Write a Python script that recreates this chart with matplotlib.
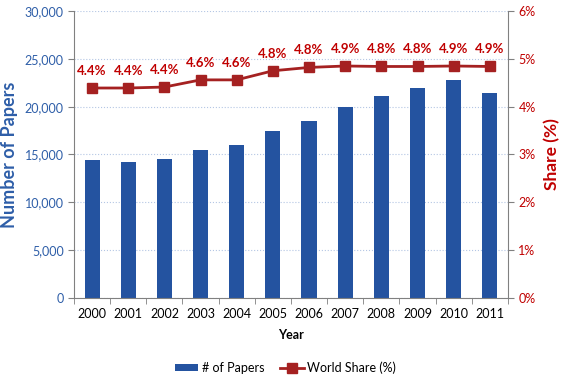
import numpy as np
import matplotlib.pyplot as plt
from matplotlib.ticker import FuncFormatter, FixedLocator

plt.rcParams['font.family'] = ['Lato', 'DejaVu Sans']

years = ['2000', '2001', '2002', '2003', '2004', '2005',
         '2006', '2007', '2008', '2009', '2010', '2011']
papers = [14430, 14230, 14540, 15480, 16000, 17470,
          18510, 20010, 21130, 21970, 22800, 21440]
share = [4.39, 4.39, 4.41, 4.56, 4.56, 4.75,
         4.82, 4.85, 4.84, 4.84, 4.85, 4.84]
share_labels = ['4.4%', '4.4%', '4.4%', '4.6%', '4.6%', '4.8%',
                '4.8%', '4.9%', '4.8%', '4.8%', '4.9%', '4.9%']

blue = '#2453a0'
red = '#a52121'
axis_blue = '#2e5ea8'
axis_red = '#c00000'

fig = plt.figure(figsize=(5.65, 3.79), dpi=100)
ax = fig.add_axes([0.131, 0.2137, 0.768, 0.7573])
x = np.arange(len(years))

ax.bar(x, papers, width=0.42, color=blue, label='# of Papers', zorder=2)
ax.set_xlim(-0.5, len(years) - 0.5)
ax.set_ylim(0, 30000)
ax.set_yticks(np.arange(0, 30001, 5000))
ax.yaxis.set_major_formatter(FuncFormatter(lambda v, p: f'{int(v):,}'))
ax.set_xticks(x)
ax.set_xticklabels(years)
ax.xaxis.set_minor_locator(FixedLocator(np.arange(-0.5, len(years), 1)))
ax.tick_params(axis='x', which='major', length=0, labelsize=9, pad=7)
ax.tick_params(axis='x', which='minor', length=4, color='#808080', direction='out')
ax.tick_params(axis='y', length=4, color='#808080', labelsize=9,
               labelcolor=axis_blue)
ax.grid(axis='y', color='#b4c6e4', linestyle=':', linewidth=0.8, zorder=0)
ax.set_axisbelow(True)
for side in ['top', 'right']:
    ax.spines[side].set_visible(False)
for side in ['left', 'bottom']:
    ax.spines[side].set_color('#808080')

ax.set_ylabel('Number of Papers', color=axis_blue, fontsize=13,
              fontweight='bold', labelpad=5)
ax.set_xlabel('Year', fontsize=9, fontweight='bold', labelpad=7)

ax2 = ax.twinx()
ax2.plot(x, share, color=red, linewidth=2, marker='s', markersize=7,
         label='World Share (%)', zorder=3)
ax2.set_ylim(0, 6)
ax2.set_yticks(np.arange(0, 7, 1))
ax2.yaxis.set_major_formatter(FuncFormatter(lambda v, p: f'{int(v)}%'))
ax2.tick_params(axis='y', length=4, color='#808080', labelsize=9,
                labelcolor=axis_red)
for side in ['top', 'left', 'bottom']:
    ax2.spines[side].set_visible(False)
ax2.spines['right'].set_color('#808080')
ax2.set_ylabel('Share (%)', color=axis_red, fontsize=12.5, fontweight='bold',
               labelpad=6)

for xi, yi, lab in zip(x, share, share_labels):
    ax2.annotate(lab, (xi, yi), xytext=(0, 8), textcoords='offset points',
                 ha='center', va='bottom', color=axis_red, fontsize=9.5,
                 fontweight='bold')

h1, l1 = ax.get_legend_handles_labels()
h2, l2 = ax2.get_legend_handles_labels()
fig.legend(h1 + h2, l1 + l2, loc='center', bbox_to_anchor=(0.505, 0.03),
           ncol=2, frameon=False, fontsize=9, handlelength=1.9,
           handletextpad=0.25, columnspacing=1.3, handleheight=0.5)

fig.savefig('out.png', dpi=100)
